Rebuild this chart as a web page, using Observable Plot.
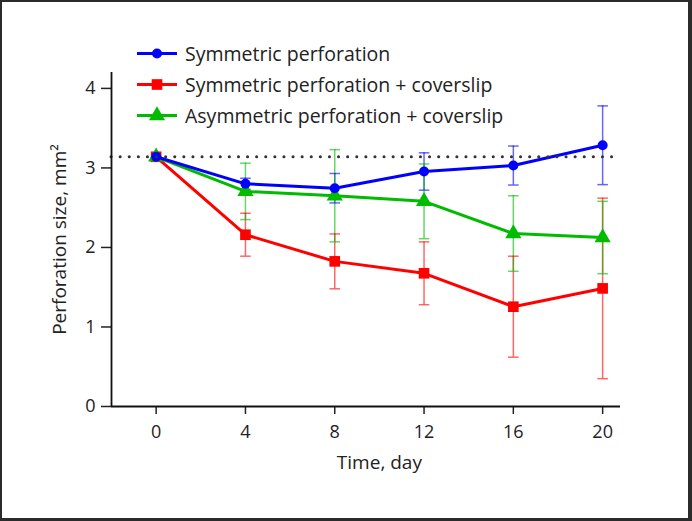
<!DOCTYPE html>
<html>
<head>
<meta charset="utf-8">
<script src="https://cdn.jsdelivr.net/npm/d3@7"></script>
<script src="https://cdn.jsdelivr.net/npm/@observablehq/plot@0.6"></script>
<style>
  html, body { margin: 0; padding: 0; background: #fff; }
  #wrap { position: relative; width: 692px; height: 521px; overflow: hidden; }
  #border { position: absolute; left: 0; top: 0; width: 692px; height: 521px; box-sizing: border-box;
            border-style: solid; border-color: #2b2b2b; border-width: 2px 4px 3px 2px; pointer-events: none; }
  #legend { position: absolute; left: 137px; top: 38px; font-family: "Open Sans", sans-serif; font-size: 19.5px; color: #222; }
  .row { display: flex; align-items: center; height: 31px; }
  .row svg { display: block; }
  .row span { margin-left: 8px; white-space: nowrap; }
</style>
</head>
<body>
<div id="wrap">
  <div id="chart"></div>
  <div id="legend"></div>
  <div id="border"></div>
</div>
<script>
// ---- data ----
const days = [0, 4, 8, 12, 16, 20];
const seriesNames = ["Symmetric perforation", "Symmetric perforation + coverslip", "Asymmetric perforation + coverslip"];
const seriesColors = ["#0000ff", "#ff0000", "#00bb00"];
const seriesSymbols = ["circle", "square", "triangle"];
const symMean = [3.14, 2.80, 2.745, 2.955, 3.03, 3.285];
const symSD   = [0, 0.07, 0.185, 0.235, 0.245, 0.495];
const symCovMean = [3.14, 2.16, 1.825, 1.675, 1.255, 1.485];
const symCovSD   = [0, 0.27, 0.345, 0.395, 0.635, 1.135];
const asymCovMean = [3.14, 2.705, 2.65, 2.58, 2.175, 2.125];
const asymCovSD   = [0, 0.355, 0.58, 0.47, 0.475, 0.455];
const baselineArea = [3.14];
const yTicks = [0, 1, 2, 3, 4];
const xTitle = "Time, day";
const yTitle = "Perforation size, mm²";

const means = [symMean, symCovMean, asymCovMean];
const sds = [symSD, symCovSD, asymCovSD];
const rows = [];
seriesNames.forEach((s, i) => days.forEach((d, j) => rows.push({series: s, day: d, mean: means[i][j], sd: sds[i][j]})));
const bars = rows.filter(r => r.sd > 0);
const caps = bars.flatMap(r => [{series: r.series, day: r.day, y: r.mean - r.sd}, {series: r.series, day: r.day, y: r.mean + r.sd}]);

const xDomain = [-2, 20.8];
const yDomain = [0, 4.2];
const colorOf = s => seriesColors[seriesNames.indexOf(s)];

const capSymbol = {
  draw(ctx, size) {
    const r = Math.sqrt(size / Math.PI);
    ctx.moveTo(-r, 0);
    ctx.lineTo(r, 0);
  }
};

const markerR = {"circle": 5, "square": 6, "triangle": 6};
const drawOrder = [1, 2, 0];

const seriesMarks = drawOrder.flatMap(i => {
  const data = rows.filter(r => r.series === seriesNames[i]);
  return [
    Plot.line(data, {x: "day", y: "mean", stroke: seriesColors[i], strokeWidth: 3}),
    Plot.dot(data, {x: "day", y: "mean", symbol: () => seriesSymbols[i], fill: seriesColors[i], r: markerR[seriesSymbols[i]]})
  ];
});

const chart = Plot.plot({
  width: 692,
  height: 521,
  marginLeft: 111,
  marginTop: 72,
  marginRight: 72,
  marginBottom: 115,
  style: {fontFamily: "'Open Sans', sans-serif", fontSize: "18px", color: "#222", background: "transparent"},
  x: {domain: xDomain},
  y: {domain: yDomain},
  symbol: {domain: seriesSymbols, range: seriesSymbols},
  marks: [
    Plot.ruleX(bars, {x: "day", y1: d => d.mean - d.sd, y2: d => d.mean + d.sd, stroke: d => colorOf(d.series), strokeOpacity: 0.6, strokeWidth: 1.5}),
    Plot.dot(caps, {x: "day", y: "y", symbol: () => capSymbol, r: 5.3, stroke: d => colorOf(d.series), strokeOpacity: 0.6, strokeWidth: 1.5, fill: "none"}),
    ...seriesMarks,
    Plot.ruleY(baselineArea, {stroke: "#333", strokeWidth: 3, strokeDasharray: "0.1,9", strokeLinecap: "round"}),
    Plot.axisY({ticks: yTicks, tickSize: 10, tickPadding: 6, tickFormat: d3.format("d"), fontSize: 18, label: null, strokeWidth: 1.5}),
    Plot.axisY({ticks: [], tickSize: 0, label: yTitle, labelAnchor: "center", labelOffset: 59, labelArrow: "none", fontSize: 19}),
    Plot.axisX({ticks: days, tickSize: 8, tickPadding: 11, tickFormat: d3.format("d"), fontSize: 18, label: null, strokeWidth: 1.5}),
    Plot.ruleX([xDomain[0]], {stroke: "#111", strokeWidth: 1.8}),
    Plot.ruleY([yDomain[0]], {stroke: "#111", strokeWidth: 1.8}),
    Plot.text([xTitle], {x: (days[0] + days[days.length - 1]) / 2, frameAnchor: "bottom", dy: 49, lineAnchor: "top", text: d => d, fontSize: 19})
  ]
});
document.getElementById("chart").appendChild(chart);

// legend
const legend = document.getElementById("legend");
const symPaths = {
  circle: d3.symbol(d3.symbolCircle, Math.PI * 25)(),
  square: d3.symbol(d3.symbolSquare, Math.PI * 36)(),
  triangle: d3.symbol(d3.symbolTriangle, Math.PI * 36)()
};
seriesNames.forEach((s, i) => {
  const row = document.createElement("div");
  row.className = "row";
  row.innerHTML = `<svg width="40" height="31"><line x1="0" x2="40" y1="15.5" y2="15.5" stroke="${seriesColors[i]}" stroke-width="3"/><path transform="translate(20,15.5)" d="${symPaths[seriesSymbols[i]]}" fill="${seriesColors[i]}"/></svg><span>${s}</span>`;
  legend.appendChild(row);
});
</script>
</body>
</html>
